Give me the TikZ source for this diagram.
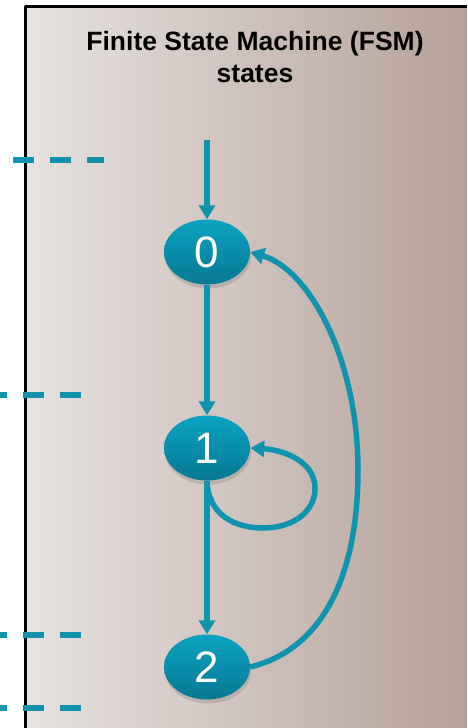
\documentclass[tikz,border=0pt]{standalone}
\usepackage{fontspec}
\setmainfont{Liberation Sans}
\usetikzlibrary{arrows.meta,positioning,calc,shapes.geometric,shadows}

\definecolor{fsmteal}{RGB}{16,147,175}
\definecolor{fsmtealtop}{RGB}{10,162,194}
\definecolor{fsmtealbot}{RGB}{8,120,148}
\definecolor{panelleft}{RGB}{231,227,225}
\definecolor{panelright}{RGB}{181,161,152}

\begin{document}
\begin{tikzpicture}[x=1pt, y=-1pt, >={Triangle[length=14pt,width=16pt]}, line join=round,
  state/.style={ellipse, minimum width=86pt, minimum height=65pt, inner sep=0pt,
    top color=fsmtealtop, bottom color=fsmtealbot, text=white,
    font=\fontsize{44}{44}\selectfont,
    drop shadow={opacity=0.3, shadow xshift=1pt, shadow yshift=-4pt}},
  flow/.style={draw=fsmteal, line width=5.5pt},
  tick/.style={draw=fsmteal, line width=6.5pt, dash pattern=on 21pt off 16pt},
  heading/.style={anchor=base, font=\fontsize{26.5}{32}\bfseries\selectfont}]

\useasboundingbox (0,0) rectangle (467,728);

% panel
\fill[left color=panelleft, right color=panelright] (25,6) rectangle (467,728);
\draw[line width=3pt] (25,728) -- (25,6) -- (467,6);

\node[heading] (title) at (255,50) {Finite State Machine (FSM)};
\node[heading] (subtitle) at (255,82) {states};

% level marks
\draw[tick] (13,160) -- (104,160);
\draw[tick, dash phase=14pt] (0,395) -- (82,395);
\draw[tick, dash phase=14pt] (0,635) -- (82,635);
\draw[tick, dash phase=14pt] (0,708) -- (82,708);

% states
\node[state] (s0) at (207,252) {0};
\node[state] (s1) at (207,448) {1};
\node[state] (s2) at (207,667) {2};
\coordinate (entry) at (207,140);

% transitions
\draw[flow,->] (entry) -- (s0);
\draw[flow,->] (s0) -- (s1);
\draw[flow,->] (s1) -- (s2);
\draw[flow,->] (s1.south) .. controls (208,515) and (235,528) .. (263,528)
  .. controls (295,528) and (316,510) .. (315,487)
  .. controls (314,462) and (285,450) .. (s1.east);
\draw[flow,->] (s2.east) .. controls (320,650) and (358,580) .. (358,470)
  .. controls (358,360) and (310,270) .. (s0.east);

\end{tikzpicture}
\end{document}
